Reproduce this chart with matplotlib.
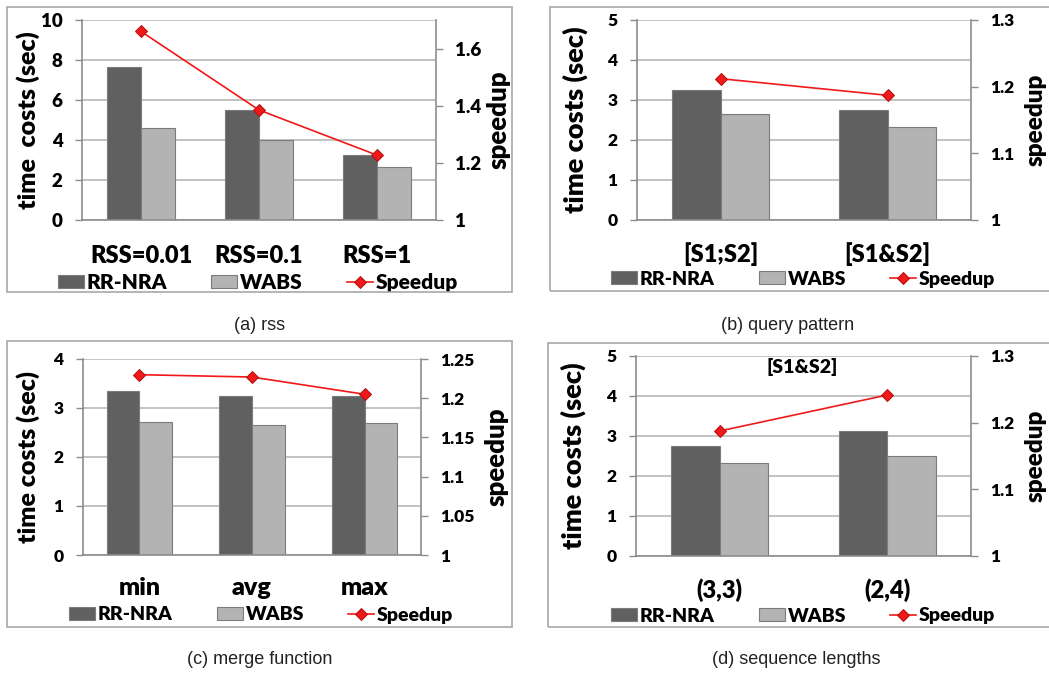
import numpy as np
import matplotlib
matplotlib.use("Agg")
import matplotlib.pyplot as plt
from matplotlib.patches import Rectangle, Patch
from matplotlib.lines import Line2D

WT = 'heavy'
plt.rcParams['font.family'] = ['Lato', 'DejaVu Sans']
plt.rcParams['font.weight'] = WT

# data
rss_cats = ['RSS=0.01', 'RSS=0.1', 'RSS=1']
rss_rrnra = [7.65, 5.5, 3.25]
rss_wabs = [4.6, 4.0, 2.65]
rss_speedup = [1.66, 1.385, 1.227]

qp_cats = ['[S1;S2]', '[S1&S2]']
qp_rrnra = [3.25, 2.75]
qp_wabs = [2.65, 2.32]
qp_speedup = [1.212, 1.187]

mf_cats = ['min', 'avg', 'max']
mf_rrnra = [3.35, 3.25, 3.25]
mf_wabs = [2.72, 2.65, 2.7]
mf_speedup = [1.23, 1.227, 1.205]

sl_cats = ['(3,3)', '(2,4)']
sl_rrnra = [2.75, 3.12]
sl_wabs = [2.32, 2.5]
sl_speedup = [1.1875, 1.2415]

W, H = 1049, 673
DARK = '#606060'
LIGHT = '#b3b3b3'
EDGE = '#7c7c7c'
GRID = '#bdbdbd'
AXC = '#8c8c8c'
RED = '#f01818'


def px(x, y):
    return x / W, 1 - y / H


def panel(fig, frame, plot, cats, rr, wabs, sp, ylim, yticks, y2lim, y2ticks,
          sz, ylab_x, sp_x, leg_c, caption, cap_c, ylab_text='time costs (sec)'):
    # outer frame
    l, t, r, b = frame
    fig.add_artist(Rectangle(px(l, b), (r - l) / W, (b - t) / H, transform=fig.transFigure,
                             fill=False, edgecolor='#a8a8a8', lw=1.2))
    l, t, r, b = plot
    ax = fig.add_axes([l / W, 1 - b / H, (r - l) / W, (b - t) / H])
    x = np.arange(len(cats))
    w = 0.29
    ax.bar(x - w / 2, rr, w, color=DARK, edgecolor=EDGE, lw=0.8, label='RR-NRA')
    ax.bar(x + w / 2, wabs, w, color=LIGHT, edgecolor=EDGE, lw=0.8, label='WABS')
    ax.set_xlim(-0.5, len(cats) - 0.5)
    ax.set_ylim(*ylim)
    ax.set_yticks(yticks)
    ax.set_yticklabels([f'{v:g}' for v in yticks], fontweight=WT, fontsize=sz['tick'])
    ax.yaxis.grid(True, color=GRID, lw=1.3)
    ax.set_axisbelow(True)
    for s in ['top', 'right']:
        ax.spines[s].set_visible(False)
    ax.spines['left'].set_color(AXC)
    ax.spines['bottom'].set_color(AXC)
    ax.spines['left'].set_linewidth(1.2)
    ax.spines['bottom'].set_linewidth(1.2)
    ax.set_xticks(x)
    ax.set_xticklabels(cats, fontsize=sz['cat'], fontweight=WT)
    ax.tick_params(axis='x', length=0, pad=sz['catpad'])
    ax.tick_params(axis='y', length=5, color=AXC, width=1, pad=9)

    ax2 = ax.twinx()
    ax2.plot(x, sp, color=RED, lw=1.2, marker='D', ms=6, mfc=RED, mec='#b01010', mew=0.7)
    ax2.set_ylim(*y2lim)
    ax2.set_yticks(y2ticks)
    ax2.set_yticklabels([f'{v:g}' for v in y2ticks], fontweight=WT, fontsize=sz['tick'])
    for s in ['top', 'left', 'bottom']:
        ax2.spines[s].set_visible(False)
    ax2.spines['right'].set_color(AXC)
    ax2.spines['right'].set_linewidth(1.2)
    ax2.tick_params(axis='y', length=5, color=AXC, width=1, pad=9)

    fig.text(*px(ylab_x, (t + b) / 2), ylab_text, rotation=90, ha='center', va='center',
             fontsize=sz['ylab'], fontweight=WT)
    fig.text(*px(sp_x, (t + b) / 2), 'speedup', rotation=90, ha='center', va='center',
             fontsize=sz['sp'], fontweight=WT)

    handles = [Patch(facecolor=DARK, edgecolor=EDGE, lw=0.8),
               Patch(facecolor=LIGHT, edgecolor=EDGE, lw=0.8),
               Line2D([], [], color=RED, lw=1.2, marker='D', ms=6, mfc=RED, mec='#b01010', mew=0.7)]
    fs = sz['leg']
    em = fs * 100 / 72
    ax.legend(handles, ['RR-NRA', 'WABS', 'Speedup'], ncol=3, loc='center',
              bbox_to_anchor=px(*leg_c), bbox_transform=fig.transFigure, frameon=False,
              handlelength=26 / em, handleheight=0.6, handletextpad=3 / em,
              columnspacing=44 / em, borderpad=0, borderaxespad=0,
              prop={'weight': WT, 'size': fs})

    fig.text(*px(*cap_c), caption, ha='center', va='center', fontsize=13,
             family='Liberation Sans', fontweight='normal', color='#222222')
    return ax, ax2


fig = plt.figure(figsize=(W / 100, H / 100), dpi=100)

panel(fig, (7, 7, 512, 292), (82, 20, 436, 220), rss_cats, rss_rrnra, rss_wabs, rss_speedup,
      (0, 10), [0, 2, 4, 6, 8, 10], (1, 1.7), [1, 1.2, 1.4, 1.6],
      dict(cat=17, catpad=18, tick=13.5, ylab=18, sp=18.5, leg=15),
      28, 499, (258, 282), '(a) rss', (260, 325), ylab_text='time  costs (sec)')

panel(fig, (550, 7, 1060, 291), (637, 20, 971, 220), qp_cats, qp_rrnra, qp_wabs, qp_speedup,
      (0, 5), [0, 1, 2, 3, 4, 5], (1, 1.3), [1, 1.1, 1.2, 1.3],
      dict(cat=17, catpad=16, tick=12.5, ylab=19.5, sp=17.5, leg=14),
      575, 1036, (803, 279), '(b) query pattern', (788, 325))

panel(fig, (7, 341, 512, 627), (83, 359, 421, 555), mf_cats, mf_rrnra, mf_wabs, mf_speedup,
      (0, 4), [0, 1, 2, 3, 4], (1, 1.25), [1, 1.05, 1.1, 1.15, 1.2, 1.25],
      dict(cat=18, catpad=16, tick=12.5, ylab=18, sp=18.5, leg=14),
      28, 497, (261, 615), '(c) merge function', (260, 659))

panel(fig, (548, 343, 1060, 627), (636, 356, 971, 556), sl_cats, sl_rrnra, sl_wabs, sl_speedup,
      (0, 5), [0, 1, 2, 3, 4, 5], (1, 1.3), [1, 1.1, 1.2, 1.3],
      dict(cat=17, catpad=16, tick=12.5, ylab=19.5, sp=17.5, leg=14),
      573, 1036, (803, 616), '(d) sequence lengths', (796, 659))

fig.text(*px(802, 367), '[S1&S2]', ha='center', va='center', fontsize=14, fontweight=WT)

fig.savefig('out.png', dpi=100)
